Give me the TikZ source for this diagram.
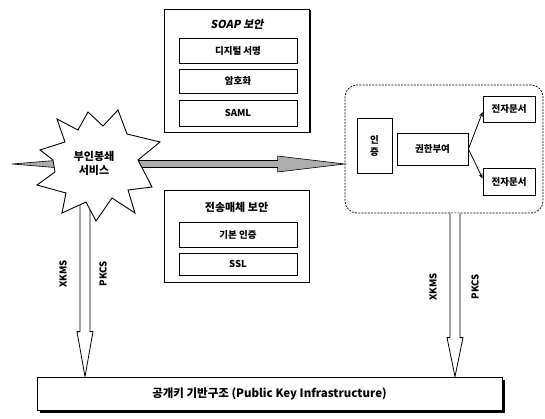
\documentclass[tikz,border=0pt]{standalone}
\usepackage{fontspec}
\setmainfont{Noto Sans CJK KR}
\newfontfamily\slantfont[FakeSlant=0.18]{Noto Sans CJK KR}
\usepackage{tikz}
\usetikzlibrary{positioning,calc,shapes,shadows,arrows.meta}

\begin{document}
\begin{tikzpicture}[x=1pt,y=-1pt,font=\bfseries,
    box/.style={draw,fill=white,line width=0.8pt,inner sep=0pt,
      font=\fontsize{9.5}{11}\bfseries,
      drop shadow={shadow xshift=1pt,shadow yshift=-1pt,opacity=1,fill=black}},
    panel/.style={box,minimum width=145pt,line width=0.9pt},
    slot/.style={box,minimum width=118pt},
    lbl/.style={font=\fontsize{9.5}{11}\bfseries,rotate=90,inner sep=0pt},
    fatarrow/.style={draw,line width=0.8pt,fill=white,line join=miter},
    grayarrow/.style={draw,line width=0.6pt,fill=black!32},
    burstline/.style={draw,fill=white,line width=0.9pt,line join=miter},
    link/.style={-{Stealth[length=5pt,width=4pt]},line width=0.8pt}]
  \useasboundingbox (0,0) rectangle (545,418);

  % left column: message level and transport level security
  \node[panel,minimum height=123pt] (soap) at (237,70.5) {};
  \node[font=\fontsize{11}{13}\slantfont\bfseries] (soaptitle) at (237,24) {SOAP 보안};
  \node[slot,minimum height=25pt] (sig)  at (238,50.5) {디지털 서명};
  \node[slot,minimum height=24pt] (enc)  at (238,81)   {암호화};
  \node[slot,minimum height=26pt] (saml) at (238,113)  {SAML};

  \node[panel,minimum height=92pt] (trans) at (236.5,236) {};
  \node[font=\fontsize{11}{13}\bfseries] (transtitle) at (236.5,207) {전송매체 보안};
  \node[slot,minimum height=25pt] (basic) at (238,234.5) {기본 인증};
  \node[slot,minimum height=22pt] (ssl)   at (238,264)   {SSL};

  % right side: access control over the documents
  \node[draw,line width=0.7pt,dash pattern=on 2pt off 1.2pt,rounded corners=12pt,
        minimum width=198pt,minimum height=128pt] (domain) at (444,149) {};
  \node[box,minimum width=35pt,minimum height=55pt,align=center,
        font=\fontsize{9.5}{12}\bfseries] (authn) at (374.5,145.5) {인\\증};
  \node[box,minimum width=71pt,minimum height=32pt] (authz) at (432.5,149) {권한부여};
  \node[box,minimum width=52pt,minimum height=26pt] (doc1) at (509,109) {전자문서};
  \node[box,minimum width=52pt,minimum height=27pt] (doc2) at (509,181.5) {전자문서};
  \draw[link] (authz.east) -- ($(doc1.west)+(0,3)$);
  \draw[link] (authz.east) -- ($(doc2.west)+(0,-3)$);

  % bottom bar
  \node[box,minimum width=465pt,minimum height=33pt,font=\fontsize{11.5}{13}\bfseries,
        drop shadow={shadow xshift=2.5pt,shadow yshift=-2.5pt,opacity=1,fill=black}]
        (pki) at (269.5,393.5) {공개키 기반구조 (Public Key Infrastructure)};

  % shaded arrow through the starburst
  \coordinate (tail) at (12,164);
  \coordinate (tip) at (domain.west |- tail);
  \draw[grayarrow] (tail) -- ($(tail)+(43,-3.5)$) -- ($(tip)+(-67,-3.5)$)
    -- ($(tip)+(-67,-8)$) -- (tip) -- ($(tip)+(-67,8)$) -- ($(tip)+(-67,3.5)$)
    -- ($(tail)+(43,3.5)$) -- cycle;

  % hollow arrows down to the key infrastructure
  \coordinate (la) at (85,200);
  \coordinate (lb) at (pki.north -| la);
  \draw[fatarrow] ($(la)+(-5,0)$) -- ($(lb)+(-5,-45)$) -- ($(lb)+(-8,-45)$) -- (lb)
    -- ($(lb)+(8,-45)$) -- ($(lb)+(5,-45)$) -- ($(la)+(5,0)$);
  \coordinate (rx) at (455,0);
  \coordinate (ra) at (domain.south -| rx);
  \coordinate (rb) at (pki.north -| rx);
  \draw[fatarrow] ($(ra)+(-5,0)$) -- ($(rb)+(-5,-39)$) -- ($(rb)+(-8,-39)$) -- (rb)
    -- ($(rb)+(8,-39)$) -- ($(rb)+(5,-39)$) -- ($(ra)+(5,0)$);
  \node[lbl] at (63,274)  {XKMS};
  \node[lbl] at (103,274) {PKCS};
  \node[lbl] at (433,287) {XKMS};
  \node[lbl] at (475,287) {PKCS};

  % the starburst, drawn over the arrow tails
  \draw[burstline] (118,110) -- (127,134) -- (160,142) -- (138,160) -- (152,187)
    -- (128,190) -- (135,213) -- (112,198) -- (96,221) -- (86,202) -- (62,213)
    -- (66,193) -- (37,185) -- (55,172) -- (53,160) -- (40,150) -- (65,142)
    -- (57,119) -- (78,130) -- (88,112) -- (103,126) -- cycle;
  \node[align=center,font=\fontsize{11}{14}\bfseries] (burst) at (94,163) {부인봉쇄\\서비스};
\end{tikzpicture}
\end{document}
